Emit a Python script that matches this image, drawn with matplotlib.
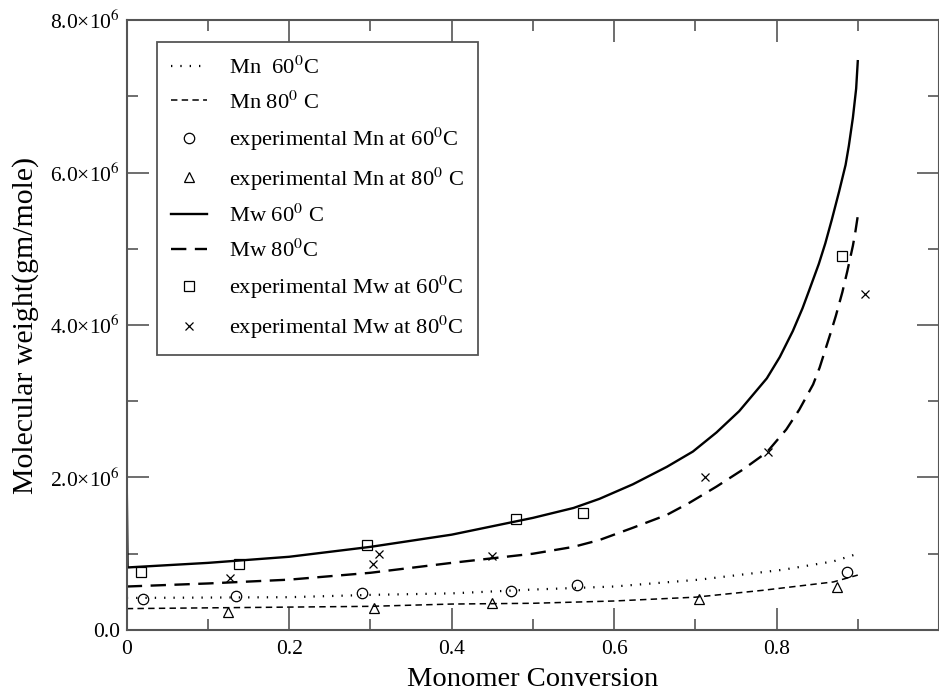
import matplotlib
matplotlib.use("Agg")
import matplotlib.pyplot as plt
from matplotlib.ticker import MultipleLocator, FuncFormatter

plt.rcParams["font.family"] = ["Liberation Serif", "DejaVu Serif"]
plt.rcParams["mathtext.fontset"] = "stix"

# === Model curves (conversion, molecular weight in units of 1e6)
mw60_x = [0.0, 0.001, 0.1, 0.2, 0.3, 0.4, 0.5, 0.55, 0.582, 0.623, 0.665, 0.697,
          0.726, 0.754, 0.788, 0.804, 0.820, 0.832, 0.840, 0.852, 0.860, 0.868,
          0.877, 0.885, 0.889, 0.894, 0.898, 0.900]
mw60_y = [1.87, 0.82, 0.88, 0.96, 1.09, 1.25, 1.47, 1.60, 1.72, 1.91, 2.14, 2.34,
          2.59, 2.87, 3.30, 3.58, 3.92, 4.22, 4.45, 4.80, 5.07, 5.38,
          5.75, 6.10, 6.35, 6.72, 7.10, 7.46]

mw80_x = [0.0, 0.1, 0.2, 0.3, 0.4, 0.5, 0.55, 0.582, 0.623, 0.665, 0.693, 0.726,
          0.758, 0.788, 0.812, 0.828, 0.845, 0.853, 0.867, 0.873, 0.881, 0.887,
          0.894, 0.897, 0.900]
mw80_y = [0.57, 0.61, 0.66, 0.75, 0.88, 1.00, 1.09, 1.18, 1.34, 1.51, 1.67, 1.88,
          2.10, 2.33, 2.63, 2.89, 3.22, 3.44, 3.91, 4.12, 4.43, 4.70,
          5.04, 5.22, 5.43]

mn60_x = [0.0, 0.2, 0.3, 0.4, 0.5, 0.6, 0.705, 0.808, 0.87, 0.903]
mn60_y = [0.42, 0.43, 0.46, 0.48, 0.53, 0.57, 0.66, 0.79, 0.90, 1.01]

mn80_x = [0.0, 0.2, 0.3, 0.4, 0.5, 0.6, 0.7, 0.783, 0.87, 0.90]
mn80_y = [0.28, 0.30, 0.31, 0.34, 0.35, 0.38, 0.43, 0.52, 0.63, 0.72]

# === Experimental points
exp_mn60_x = [0.02, 0.135, 0.29, 0.473, 0.554, 0.887]
exp_mn60_y = [0.41, 0.45, 0.49, 0.51, 0.59, 0.76]

exp_mn80_x = [0.125, 0.305, 0.45, 0.705, 0.875]
exp_mn80_y = [0.24, 0.29, 0.36, 0.41, 0.57]

exp_mw60_x = [0.017, 0.138, 0.296, 0.479, 0.562, 0.88]
exp_mw60_y = [0.76, 0.87, 1.12, 1.46, 1.54, 4.91]

exp_mw80_x = [0.127, 0.303, 0.31, 0.45, 0.712, 0.79, 0.909]
exp_mw80_y = [0.68, 0.86, 1.00, 0.97, 2.00, 2.34, 4.41]

labels = ["Mn  60$^0$C", "Mn 80$^0$ C", "experimental Mn at 60$^0$C",
          "experimental Mn at 80$^0$ C", "Mw 60$^0$ C", "Mw 80$^0$C",
          "experimental Mw at 60$^0$C", "experimental Mw at 80$^0$C"]


def scale(v):
    return [y * 1e6 for y in v]


fig = plt.figure(figsize=(9.39, 6.90), dpi=100)
ax = fig.add_axes([0.135, 0.087, 0.865, 0.884])

spine_col = "#555555"
mk = dict(linestyle="none", color="black", markerfacecolor="none", markeredgewidth=0.9)

ax.plot(mn60_x, scale(mn60_y), color="black", lw=1.6, linestyle=(0, (0.6, 3.6)),
        label=labels[0])
ax.plot(mn80_x, scale(mn80_y), color="black", lw=1.1, linestyle=(0, (4.2, 2.8)),
        label=labels[1])
ax.plot(exp_mn60_x, scale(exp_mn60_y), marker="o", markersize=7.5, label=labels[2], **mk)
ax.plot(exp_mn80_x, scale(exp_mn80_y), marker="^", markersize=7.5, label=labels[3], **mk)
ax.plot(mw60_x, scale(mw60_y), color="black", lw=1.7, label=labels[4])
ax.plot(mw80_x, scale(mw80_y), color="black", lw=1.7, linestyle=(0, (6.5, 3.6)),
        label=labels[5])
ax.plot(exp_mw60_x, scale(exp_mw60_y), marker="s", markersize=7, label=labels[6], **mk)
ax.plot(exp_mw80_x, scale(exp_mw80_y), marker="x", markersize=5.5, label=labels[7], **mk)

ax.set_xlim(0, 1.0)
ax.set_ylim(0, 8e6)
ax.xaxis.set_major_locator(MultipleLocator(0.2))
ax.xaxis.set_minor_locator(MultipleLocator(0.1))
ax.yaxis.set_major_locator(MultipleLocator(2e6))
ax.yaxis.set_minor_locator(MultipleLocator(1e6))


def xfmt(v, pos):
    if abs(v) < 1e-9:
        return "0"
    if v > 0.95:
        return ""
    return f"{v:.1f}"


def yfmt(v, pos):
    if abs(v) < 1e-3:
        return "0.0"
    return f"{v / 1e6:.1f}\u00d710$^6$"


ax.xaxis.set_major_formatter(FuncFormatter(xfmt))
ax.yaxis.set_major_formatter(FuncFormatter(yfmt))
ax.tick_params(which="both", direction="in", top=True, right=True,
               color=spine_col, labelsize=15.5, width=1.2)
ax.tick_params(which="major", length=16)
ax.tick_params(axis="x", which="major", pad=7)
ax.tick_params(axis="y", which="major", pad=5)
ax.tick_params(which="minor", length=8)
for s in ax.spines.values():
    s.set_color(spine_col)
    s.set_linewidth(1.5)

ax.set_xlabel("Monomer Conversion", fontsize=20.5)
ax.xaxis.set_label_coords(0.5, -0.06)
ax.set_ylabel("Molecular weight(gm/mole)", fontsize=21.5)
ax.yaxis.set_label_coords(-0.108, 0.5)

leg = ax.legend(loc="upper left", bbox_to_anchor=(0.037, 0.964), borderaxespad=0,
                fontsize=16.2, fancybox=False, edgecolor=spine_col, framealpha=1,
                handlelength=1.6, handletextpad=0.95, labelspacing=0.55,
                borderpad=0.65, numpoints=1)
leg.get_frame().set_linewidth(1.3)

fig.savefig("out.png", dpi=100)
